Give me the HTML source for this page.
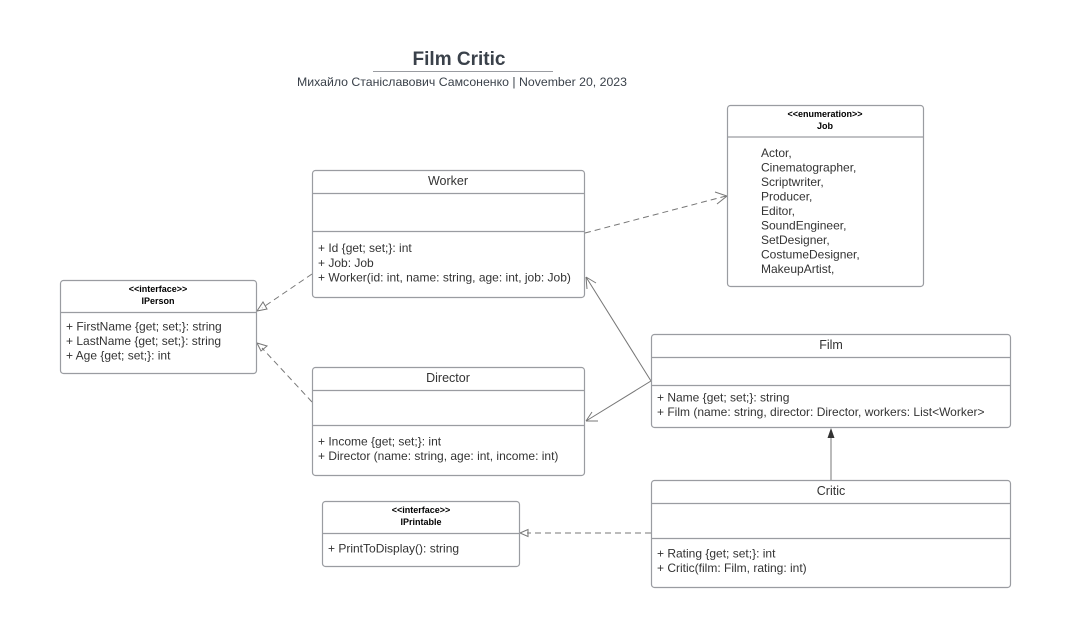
<!DOCTYPE html>
<html><head><meta charset="utf-8"><style>
html,body{margin:0;padding:0;background:#fff;}
svg{display:block;font-family:"Liberation Sans",Arial,sans-serif;}
.b{fill:#fff;stroke:#9a9ca1;stroke-width:1.2;}
.d{stroke:#9a9ca1;stroke-width:1.2;}
.t{font-size:12px;fill:#333;}
.h{font-size:12.5px;fill:#333;text-anchor:middle;}
.s{font-size:9px;font-weight:bold;fill:#000;text-anchor:middle;}
.c{stroke:#777;stroke-width:1;fill:none;}
.dash{stroke-dasharray:6,4;}
</style></head><body>
<svg width="1071" height="628" viewBox="0 0 1071 628">
<rect width="1071" height="628" fill="#fff"/>
<text x="459" y="65" text-anchor="middle" font-size="19" font-weight="bold" fill="#3a414a">Film Critic</text>
<line x1="373" y1="71.5" x2="553" y2="71.5" stroke="#9a9ca1" stroke-width="1"/>
<text x="462" y="86" text-anchor="middle" font-size="12.3" fill="#3a414a" font-family="Liberation Sans, DejaVu Sans, sans-serif">Михайло Станіславович Самсоненко | November 20, 2023</text>

<path class="c dash" d="M585,233 L726,196"/>
<path class="c" d="M715,192 L727,196 L717,204"/>
<path class="c dash" d="M312,274 L262,308"/>
<path class="c" d="M257,311 L263,302 L267,309 Z"/>
<path class="c dash" d="M312,402 L262,348"/>
<path class="c" d="M257,343 L267,346 L261,351 Z"/>
<path class="c" d="M651,381 L586,277 M586,277 L587,289 M586,277 L596,283"/>
<path class="c" d="M651,381 L586,421 M586,421 L592,412 M586,421 L598,421"/>
<path class="c" d="M831,480 L831,436"/>
<path d="M831,428 L827.5,438 L834.5,438 Z" fill="#333"/>
<path class="c dash" d="M651,533 L527,533"/>
<path class="c" d="M520,533 L528,529.5 L528,536.5 Z"/>

<rect class="b" x="727.5" y="105.5" width="196" height="181" rx="3"/>
<line class="d" x1="727.5" y1="137" x2="923.5" y2="137"/>
<text class="s" x="825" y="117">&lt;&lt;enumeration&gt;&gt;</text>
<text class="s" x="825" y="129">Job</text>
<text class="t" x="761" y="157">Actor,</text>
<text class="t" x="761" y="171.5">Cinematographer,</text>
<text class="t" x="761" y="186">Scriptwriter,</text>
<text class="t" x="761" y="200.5">Producer,</text>
<text class="t" x="761" y="215">Editor,</text>
<text class="t" x="761" y="229.5">SoundEngineer,</text>
<text class="t" x="761" y="244">SetDesigner,</text>
<text class="t" x="761" y="258.5">CostumeDesigner,</text>
<text class="t" x="761" y="273">MakeupArtist,</text>

<rect class="b" x="312.5" y="170.5" width="272" height="127" rx="3"/>
<line class="d" x1="312.5" y1="193.5" x2="584.5" y2="193.5"/>
<line class="d" x1="312.5" y1="231.5" x2="584.5" y2="231.5"/>
<text class="h" x="448" y="185">Worker</text>
<text class="t" x="318" y="252">+ Id {get; set;}: int</text>
<text class="t" x="318" y="267">+ Job: Job</text>
<text class="t" x="318" y="281.5">+ Worker(id: int, name: string, age: int, job: Job)</text>

<rect class="b" x="60.5" y="280.5" width="196" height="93" rx="3"/>
<line class="d" x1="60.5" y1="312.5" x2="256.5" y2="312.5"/>
<text class="s" x="158" y="292">&lt;&lt;interface&gt;&gt;</text>
<text class="s" x="158" y="304">IPerson</text>
<text class="t" x="66" y="330.5">+ FirstName {get; set;}: string</text>
<text class="t" x="66" y="345">+ LastName {get; set;}: string</text>
<text class="t" x="66" y="359.5">+ Age {get; set;}: int</text>

<rect class="b" x="312.5" y="367.5" width="272" height="108" rx="3"/>
<line class="d" x1="312.5" y1="390.5" x2="584.5" y2="390.5"/>
<line class="d" x1="312.5" y1="425.5" x2="584.5" y2="425.5"/>
<text class="h" x="448" y="382">Director</text>
<text class="t" x="318" y="445.5">+ Income {get; set;}: int</text>
<text class="t" x="318" y="460">+ Director (name: string, age: int, income: int)</text>

<rect class="b" x="651.5" y="334.5" width="359" height="93" rx="3"/>
<line class="d" x1="651.5" y1="357.5" x2="1010.5" y2="357.5"/>
<line class="d" x1="651.5" y1="385.5" x2="1010.5" y2="385.5"/>
<text class="h" x="831" y="349">Film</text>
<text class="t" x="657" y="401.5">+ Name {get; set;}: string</text>
<text class="t" x="657" y="416">+ Film (name: string, director: Director, workers: List&lt;Worker&gt;</text>

<rect class="b" x="651.5" y="480.5" width="359" height="107" rx="3"/>
<line class="d" x1="651.5" y1="503.5" x2="1010.5" y2="503.5"/>
<line class="d" x1="651.5" y1="538.5" x2="1010.5" y2="538.5"/>
<text class="h" x="831" y="495">Critic</text>
<text class="t" x="657" y="557.5">+ Rating {get; set;}: int</text>
<text class="t" x="657" y="572">+ Critic(film: Film, rating: int)</text>

<rect class="b" x="322.5" y="501.5" width="197" height="65" rx="3"/>
<line class="d" x1="322.5" y1="533.5" x2="519.5" y2="533.5"/>
<text class="s" x="421" y="513">&lt;&lt;interface&gt;&gt;</text>
<text class="s" x="421" y="525">IPrintable</text>
<text class="t" x="328" y="552.5">+ PrintToDisplay(): string</text>
</svg>
</body></html>
